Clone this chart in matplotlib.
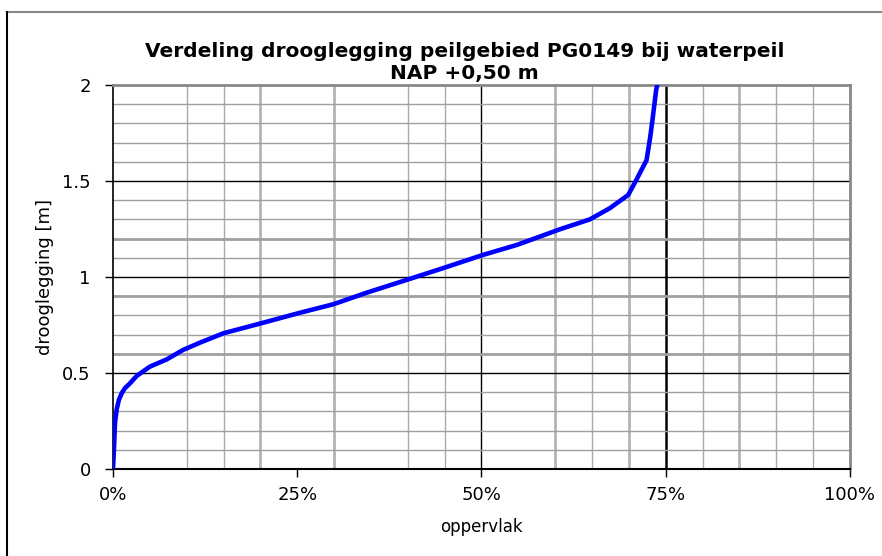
import matplotlib
matplotlib.use('Agg')
import matplotlib.pyplot as plt
from matplotlib.lines import Line2D

plt.rcParams['font.family'] = ['DejaVu Sans']

# cumulatief oppervlak (%) en drooglegging (m)
oppervlak = [0, 0.15, 0.27, 0.5, 0.8, 1.18, 1.6, 2.3, 3.2, 5.0, 7.3, 9.5, 11.8, 15.0,
             20.1, 25.4, 29.9, 34.4, 40.1, 45.1, 50.2, 54.8, 60.6, 64.7, 67.4, 69.9,
             71.0, 72.4, 72.9, 73.2, 73.7, 73.85]
drooglegging = [0, 0.12, 0.24, 0.31, 0.36, 0.394, 0.42, 0.446, 0.484, 0.533, 0.571, 0.62,
                0.658, 0.707, 0.759, 0.814, 0.858, 0.918, 0.988, 1.05, 1.115, 1.167, 1.248,
                1.30, 1.358, 1.427, 1.505, 1.609, 1.73, 1.818, 1.974, 2.0]
xticks = [0, 25, 50, 75, 100]
xlabels = ['0%', '25%', '50%', '75%', '100%']
yticks = [0, 0.5, 1, 1.5, 2]
ylabels = ['0', '0.5', '1', '1.5', '2']

fig = plt.figure(figsize=(8.82, 5.56), dpi=100)
ax = fig.add_axes([0.1281, 0.1565, 0.8356, 0.6906])

# gridlines (zoals in het origineel, onregelmatig)
for x in [10, 15, 40, 45, 65, 80, 90, 95]:
    ax.axvline(x, color='#aaaaaa', lw=1.0, zorder=1)
for x in [20, 30, 60, 70, 85]:
    ax.axvline(x, color='#b4b4b4', lw=2.0, zorder=1)
ax.axvline(50, color='black', lw=1.0, zorder=1)
ax.axvline(75, color='black', lw=1.8, zorder=1)
for y in [0.1, 0.2, 0.3, 0.4, 0.7, 0.8, 1.1, 1.3, 1.4, 1.6, 1.7, 1.8, 1.9]:
    ax.axhline(y, color='#a0a0a0', lw=1.0, zorder=1)
for y in [0.6, 0.9, 1.2]:
    ax.axhline(y, color='#a0a0a0', lw=2.0, zorder=1)
for y in [0.5, 1.0, 1.5]:
    ax.axhline(y, color='black', lw=1.0, zorder=1)

ax.plot(oppervlak, drooglegging, color='#0000ff', lw=3.3, zorder=3)

ax.set_xlim(0, 100)
ax.set_ylim(0, 2)
ax.set_xticks(xticks)
ax.set_xticklabels(xlabels, fontsize=13)
ax.set_yticks(yticks)
ax.set_yticklabels(ylabels, fontsize=13)
ax.tick_params(direction='out', length=6, width=1)
ax.tick_params(axis='y', pad=10)
ax.tick_params(axis='x', pad=6)

ax.spines['top'].set_color('#888888')
ax.spines['top'].set_linewidth(2)
ax.spines['right'].set_color('#888888')
ax.spines['right'].set_linewidth(2)
ax.spines['left'].set_linewidth(1.2)
ax.spines['bottom'].set_linewidth(1.5)

ax.set_xlabel('oppervlak', fontsize=12, labelpad=10)
ax.set_ylabel('drooglegging [m]', fontsize=13, labelpad=6)

fig.text(0.527, 0.888, 'Verdeling drooglegging peilgebied PG0149 bij waterpeil\nNAP +0,50 m',
         ha='center', va='center', fontsize=14.5, fontweight='bold', linespacing=1.2)

# rand van de figuur
fig.add_artist(Line2D([0.008, 1.0], [0.978, 0.978], color='#888888', lw=1.5))
fig.add_artist(Line2D([0.008, 0.008], [0.0, 0.978], color='black', lw=1.5))

plt.savefig('out.png', dpi=100)
